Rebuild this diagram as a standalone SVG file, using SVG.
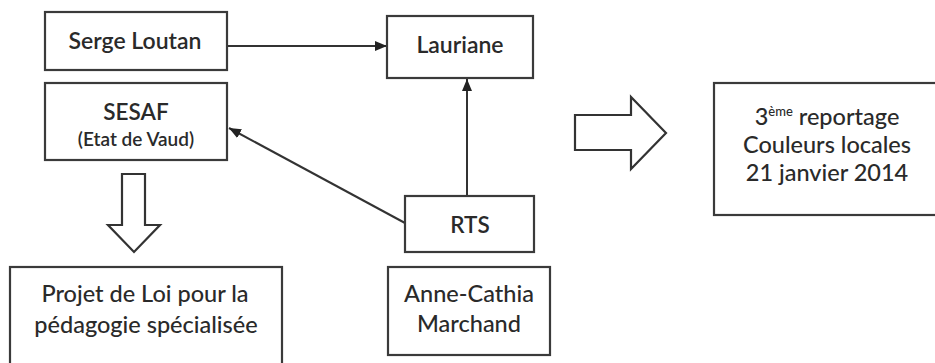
<svg xmlns="http://www.w3.org/2000/svg" width="935" height="363" viewBox="0 0 935 363">
<defs>
<style>
.box{fill:#fff;stroke:#3a3a3a;stroke-width:2.2}
.t{font-family:Lato,"Open Sans","Liberation Sans",sans-serif;fill:#2a2a2a;text-anchor:middle;font-size:23.5px;font-weight:500}
.b{font-size:23px;font-weight:600}
.b2{font-size:22.5px;font-weight:600}
.s{font-size:19px;font-weight:600}
.ln{stroke:#333;stroke-width:2;fill:none}
.hol{fill:#fff;stroke:#333;stroke-width:2.2;stroke-linejoin:miter}
</style>
<marker id="ah" viewBox="0 0 12 10" refX="12" refY="5" markerWidth="12" markerHeight="10" markerUnits="userSpaceOnUse" orient="auto">
<path d="M0,0 L12,5 L0,10 z" fill="#222"/>
</marker>
</defs>
<rect width="935" height="363" fill="#fff"/>
<g id="connectors">
<line class="ln" x1="227" y1="46" x2="387" y2="46" marker-end="url(#ah)"/>
<line class="ln" x1="405" y1="223" x2="229" y2="128" marker-end="url(#ah)"/>
<line class="ln" x1="467" y1="196" x2="467" y2="79" marker-end="url(#ah)"/>
<polygon class="hol" points="122,174 145,174 145,225 160,225 134,252 108,225 122,225"/>
<polygon class="hol" points="575,115 631,115 631,97 666,133 631,169 631,150 575,150"/>
</g>
<g id="serge">
<rect class="box" x="45" y="12" width="182" height="58"/>
<text class="t b" x="135" y="49">Serge Loutan</text>
</g>
<g id="sesaf">
<rect class="box" x="45" y="83" width="182" height="77"/>
<text class="t b2" x="136" y="120">SESAF</text>
<text class="t s" x="136" y="146">(Etat de Vaud)</text>
</g>
<g id="lauriane">
<rect class="box" x="387" y="16" width="146" height="62"/>
<text class="t b" x="460" y="53">Lauriane</text>
</g>
<g id="rts">
<rect class="box" x="405" y="196" width="129" height="56"/>
<text class="t b2" x="470" y="233">RTS</text>
</g>
<g id="anne">
<rect class="box" x="388" y="267" width="162" height="88"/>
<text class="t" x="469" y="302">Anne-Cathia</text>
<text class="t" x="469" y="332">Marchand</text>
</g>
<g id="projet">
<rect class="box" x="10" y="267" width="272" height="110"/>
<text class="t" x="145" y="302">Projet de Loi pour la</text>
<text class="t" x="146" y="333">pédagogie spécialisée</text>
</g>
<g id="reportage">
<rect class="box" x="714" y="83" width="230" height="132"/>
<text class="t" x="827" y="125">3<tspan font-size="13" dy="-9">ème</tspan><tspan dy="9"> reportage</tspan></text>
<text class="t" x="827" y="153">Couleurs locales</text>
<text class="t" x="827" y="181">21 janvier 2014</text>
</g>
</svg>
